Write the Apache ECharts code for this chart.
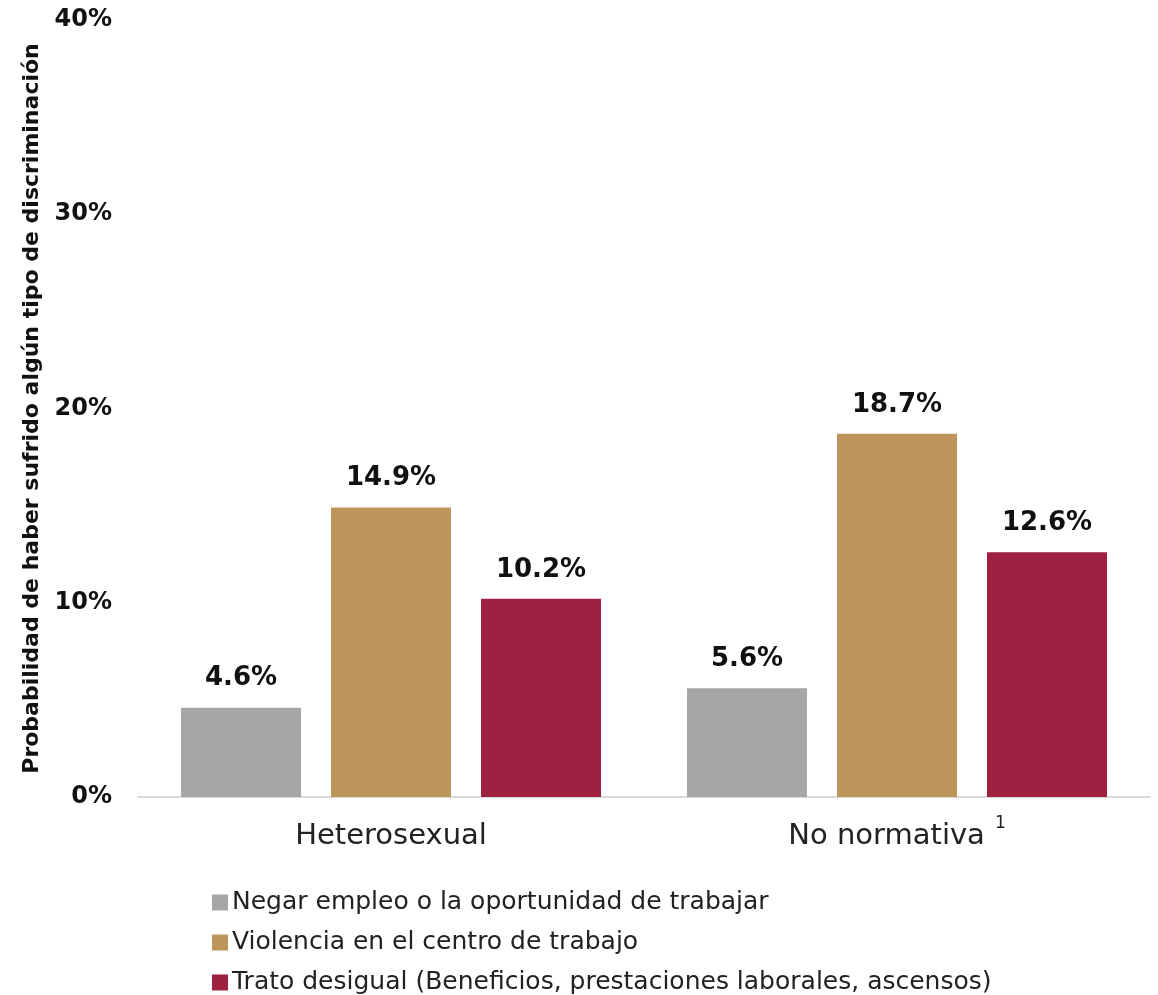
<!DOCTYPE html>
<html>
<head>
<meta charset="utf-8">
<style>
  html, body { margin: 0; padding: 0; background: #fff; }
  #chart { width: 1158px; height: 995px; }
</style>
<script src="https://cdn.jsdelivr.net/npm/echarts@6/dist/echarts.min.js"></script>
</head>
<body>
<div id="chart"></div>
<script>
// Categories and series values (percent)
const categories = ['Heterosexual', 'No normativa'];
const seriesNames = [
  'Negar empleo o la oportunidad de trabajar',
  'Violencia en el centro de trabajo',
  'Trato desigual (Beneficios, prestaciones laborales, ascensos)'
];
const negarEmpleo = [4.6, 5.6];
const violencia = [14.9, 18.7];
const tratoDesigual = [10.2, 12.6];
const seriesColors = ['#a6a6a6', '#bd955b', '#9f2140'];
const yTicks = [0, 10, 20, 30, 40];
// Footnote marker attached to a category label
const footnotes = { 'No normativa': '1' };

const FONT = 'DejaVu Sans';

const chart = echarts.init(document.getElementById('chart'));

function barSeries(name, values, color) {
  return {
    name: name,
    type: 'bar',
    data: values,
    barWidth: 120,
    barGap: '25%',
    itemStyle: { color: color },
    label: {
      show: true,
      position: 'top',
      distance: 16,
      formatter: p => p.value.toFixed(1) + '%',
      fontFamily: FONT,
      fontWeight: 'bold',
      fontSize: 26,
      color: '#111'
    }
  };
}

chart.setOption({
  animation: false,
  textStyle: { fontFamily: FONT },
  grid: { left: 138, right: 8, top: 20, bottom: 198, containLabel: false },
  legend: {
    orient: 'vertical',
    left: 212,
    top: 890,
    height: 140,
    padding: 0,
    itemWidth: 16,
    itemHeight: 16,
    itemGap: 15,
    icon: 'rect',
    textStyle: { fontFamily: FONT, fontSize: 25, lineHeight: 25, color: '#222', padding: [0, 0, 0, -1] },
    data: seriesNames
  },
  xAxis: {
    type: 'category',
    data: categories,
    axisLine: { lineStyle: { color: '#d9d9d9', width: 2 } },
    axisTick: { show: false },
    axisLabel: {
      margin: 18,
      color: '#222',
      formatter: v => footnotes[v] ? '{n|' + v + '}{sup|' + footnotes[v] + '}' : '{n|' + v + '}',
      rich: {
        n: { fontSize: 29, lineHeight: 36, color: '#222', fontFamily: FONT, verticalAlign: 'bottom' },
        sup: { fontSize: 17, lineHeight: 36, color: '#222', fontFamily: FONT, verticalAlign: 'top', padding: [0, 0, 0, 10] }
      }
    }
  },
  yAxis: {
    type: 'value',
    min: yTicks[0],
    max: yTicks[yTicks.length - 1],
    interval: 10,
    name: 'Probabilidad de haber sufrido algún tipo de discriminación',
    nameLocation: 'middle',
    nameGap: 91,
    nameTextStyle: { fontFamily: FONT, fontWeight: 'bold', fontSize: 22, color: '#111' },
    axisLine: { show: false },
    axisTick: { show: false },
    splitLine: { show: false },
    axisLabel: {
      margin: 26,
      fontFamily: FONT,
      fontWeight: 'bold',
      fontSize: 24,
      color: '#111',
      formatter: v => v + '%'
    }
  },
  series: [
    barSeries(seriesNames[0], negarEmpleo, seriesColors[0]),
    barSeries(seriesNames[1], violencia, seriesColors[1]),
    barSeries(seriesNames[2], tratoDesigual, seriesColors[2])
  ]
});
</script>
</body>
</html>
